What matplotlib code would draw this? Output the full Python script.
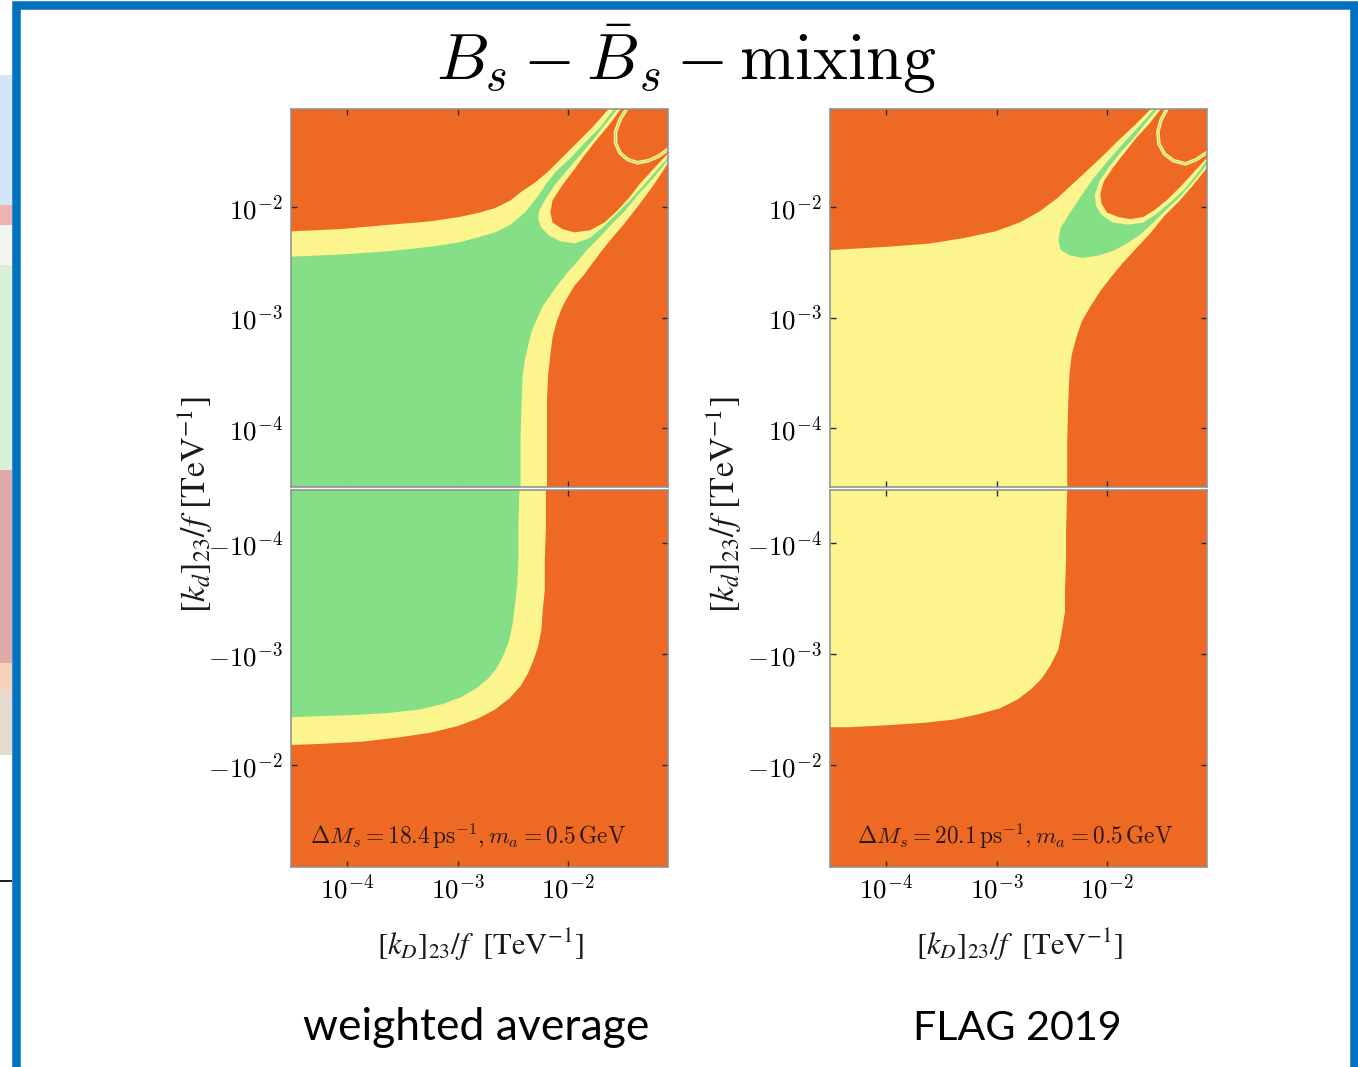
import numpy as np
import matplotlib
matplotlib.use("Agg")
import matplotlib.pyplot as plt
from matplotlib.patches import Rectangle
from matplotlib.ticker import FixedLocator, FuncFormatter, NullLocator

plt.rcParams["mathtext.fontset"] = "cm"

W, H, DPI = 1358, 1067, 100

ORANGE = "#EE6A24"
YELLOW = "#FCF48C"
GREEN = "#84DF86"

# ---------------------------------------------------------------------------
# Region boundaries, given as log10 of the couplings in TeV^-1
# (x = [k_D]_23/f, y = |[k_d]_23/f|).  "2s" = outer edge of the allowed band,
# "1s" = edge of the inner (green) region, "notch" = excluded pocket between
# the two cancellation branches, "thin" = narrow allowed branch in the corner.
# ---------------------------------------------------------------------------

# weighted average, [k_d]_23 > 0
wa_pos_2s_upper_lx = [-4.51, -4.06, -3.61, -3.25, -2.98, -2.80, -2.66, -2.52, -2.42, -2.30,
                      -2.18, -2.05, -1.91, -1.78, -1.63]
wa_pos_2s_upper_ly = [-2.22, -2.20, -2.16, -2.13, -2.09, -2.05, -2.01, -1.94, -1.86, -1.78,
                      -1.68, -1.55, -1.41, -1.28, -1.11]
wa_pos_2s_lower_lx = [-2.19, -2.19, -2.19, -2.18, -2.16, -2.14, -2.10, -2.05, -2.00, -1.94,
                      -1.86, -1.78, -1.69, -1.60, -1.49, -1.38, -1.26, -1.17, -1.10]
wa_pos_2s_lower_ly = [-4.53, -4.11, -3.75, -3.52, -3.34, -3.18, -3.03, -2.90, -2.81, -2.71,
                      -2.62, -2.51, -2.39, -2.28, -2.15, -2.01, -1.85, -1.72, -1.61]
wa_pos_1s_upper_lx = [-4.51, -4.06, -3.61, -3.25, -2.98, -2.80, -2.66, -2.52, -2.39, -2.27,
                      -2.19, -2.11, -1.97, -1.84, -1.71, -1.58]
wa_pos_1s_upper_ly = [-2.45, -2.43, -2.40, -2.36, -2.32, -2.27, -2.23, -2.16, -2.05, -1.90,
                      -1.78, -1.68, -1.55, -1.41, -1.28, -1.11]
wa_pos_1s_lower_lx = [-2.43, -2.43, -2.42, -2.41, -2.39, -2.36, -2.33, -2.28, -2.23, -2.16,
                      -2.09, -2.01, -1.92, -1.83, -1.71, -1.60, -1.48, -1.35, -1.22, -1.10]
wa_pos_1s_lower_ly = [-4.53, -4.11, -3.75, -3.52, -3.38, -3.25, -3.13, -3.01, -2.90, -2.80,
                      -2.70, -2.60, -2.50, -2.39, -2.27, -2.15, -2.03, -1.87, -1.73, -1.58]
wa_pos_notch_2s_lx = [-1.55, -1.67, -1.77, -1.89, -2.01, -2.12, -2.21, -2.26, -2.27, -2.24,
                      -2.17, -2.07, -1.94, -1.80, -1.67, -1.55, -1.44, -1.34, -1.21, -1.10]
wa_pos_notch_2s_ly = [-1.11, -1.26, -1.39, -1.53, -1.67, -1.80, -1.94, -2.03, -2.11, -2.19,
                      -2.26, -2.31, -2.33, -2.28, -2.17, -2.05, -1.94, -1.83, -1.68, -1.56]
wa_pos_notch_lx = [-1.52, -1.63, -1.74, -1.85, -1.95, -2.05, -2.14, -2.16, -2.14, -2.05,
                   -1.94, -1.80, -1.67, -1.56, -1.45, -1.35, -1.24, -1.10]
wa_pos_notch_ly = [-1.11, -1.26, -1.39, -1.53, -1.67, -1.80, -1.94, -2.05, -2.14, -2.20,
                   -2.23, -2.21, -2.14, -2.04, -1.92, -1.79, -1.67, -1.52]
wa_pos_thin_lx = [-1.45, -1.53, -1.57, -1.57, -1.53, -1.46, -1.37, -1.27, -1.18, -1.07]
wa_pos_thin_ly = [-1.08, -1.21, -1.32, -1.42, -1.51, -1.57, -1.60, -1.58, -1.54, -1.46]

# weighted average, [k_d]_23 < 0
wa_neg_1s_lx = [-2.44, -2.45, -2.45, -2.46, -2.48, -2.50, -2.53, -2.58, -2.64, -2.72,
                -2.83, -2.97, -3.13, -3.34, -3.61, -3.93, -4.24, -4.51]
wa_neg_1s_ly = [-4.48, -4.12, -3.85, -3.62, -3.44, -3.28, -3.13, -3.00, -2.88, -2.78,
                -2.69, -2.61, -2.55, -2.50, -2.47, -2.45, -2.44, -2.43]
wa_neg_2s_lx = [-2.20, -2.20, -2.21, -2.21, -2.23, -2.24, -2.27, -2.31, -2.36, -2.43,
                -2.53, -2.66, -2.81, -3.00, -3.25, -3.52, -3.86, -4.24, -4.51]
wa_neg_2s_ly = [-4.48, -4.12, -3.85, -3.58, -3.38, -3.22, -3.07, -2.95, -2.83, -2.71,
                -2.60, -2.50, -2.42, -2.35, -2.29, -2.25, -2.21, -2.19, -2.18]

# FLAG 2019, [k_d]_23 > 0
flag_pos_2s_upper_lx = [-4.51, -3.99, -3.60, -3.29, -3.01, -2.79, -2.61, -2.45, -2.32, -2.18,
                        -2.04, -1.90, -1.76, -1.59]
flag_pos_2s_upper_ly = [-2.39, -2.36, -2.33, -2.28, -2.22, -2.14, -2.04, -1.92, -1.80, -1.67,
                        -1.54, -1.40, -1.27, -1.10]
flag_pos_2s_lower_lx = [-2.36, -2.36, -2.35, -2.34, -2.32, -2.28, -2.23, -2.15, -2.06, -1.96,
                        -1.86, -1.74, -1.61, -1.48, -1.34, -1.21, -1.10]
flag_pos_2s_lower_ly = [-4.53, -4.11, -3.75, -3.52, -3.34, -3.19, -3.04, -2.90, -2.76, -2.63,
                        -2.51, -2.38, -2.24, -2.08, -1.94, -1.79, -1.65]
flag_pos_1s_lx = [-1.57, -1.71, -1.85, -1.99, -2.13, -2.24, -2.34, -2.42, -2.44, -2.42,
                  -2.33, -2.22, -2.08, -1.95, -1.82, -1.70, -1.59, -1.47, -1.34, -1.21, -1.10]
flag_pos_1s_ly = [-1.11, -1.27, -1.42, -1.58, -1.75, -1.91, -2.06, -2.19, -2.30, -2.39,
                  -2.44, -2.46, -2.44, -2.40, -2.33, -2.25, -2.15, -2.03, -1.91, -1.76, -1.62]
flag_pos_notch_2s_lx = [-1.54, -1.65, -1.76, -1.88, -1.99, -2.07, -2.11, -2.10, -2.05, -1.95,
                        -1.81, -1.67, -1.55, -1.43, -1.31, -1.20, -1.10]
flag_pos_notch_2s_ly = [-1.11, -1.24, -1.38, -1.51, -1.65, -1.77, -1.89, -1.99, -2.07, -2.14,
                        -2.16, -2.14, -2.06, -1.96, -1.85, -1.72, -1.58]
flag_pos_notch_lx = [-1.51, -1.62, -1.74, -1.85, -1.95, -2.03, -2.06, -2.05, -2.00, -1.90,
                     -1.79, -1.67, -1.56, -1.45, -1.33, -1.21, -1.10]
flag_pos_notch_ly = [-1.11, -1.25, -1.38, -1.52, -1.65, -1.77, -1.88, -1.97, -2.05, -2.09,
                     -2.11, -2.09, -2.02, -1.93, -1.81, -1.68, -1.56]
flag_pos_thin_lx = [-1.44, -1.51, -1.54, -1.53, -1.48, -1.40, -1.29, -1.19, -1.07]
flag_pos_thin_ly = [-1.08, -1.21, -1.32, -1.43, -1.52, -1.58, -1.61, -1.57, -1.49]

# FLAG 2019, [k_d]_23 < 0
flag_neg_2s_lx = [-2.36, -2.37, -2.37, -2.38, -2.38, -2.41, -2.44, -2.51, -2.59, -2.69,
                  -2.81, -2.97, -3.15, -3.38, -3.65, -3.96, -4.33, -4.51]
flag_neg_2s_ly = [-4.48, -4.12, -3.85, -3.58, -3.38, -3.20, -3.04, -2.90, -2.78, -2.68,
                  -2.59, -2.51, -2.46, -2.41, -2.38, -2.36, -2.34, -2.34]

# axis ranges (log10) and tick decades
x_range = (-4.507, -1.095)
y_pos_range = (-4.534, -1.113)
y_neg_range = (-4.477, -1.081)
tick_decades = [-4, -3, -2]

panel_captions = ["weighted average", "FLAG 2019"]
panel_notes = [r"$\Delta M_s = 18.4\,\mathrm{ps}^{-1}, m_a = 0.5\,\mathrm{GeV}$",
               r"$\Delta M_s = 20.1\,\mathrm{ps}^{-1}, m_a = 0.5\,\mathrm{GeV}$"]

FAR, CORNER = -6.0, -0.3


def fill_log(ax, lx, ly, color, z):
    ax.fill(10.0 ** np.asarray(lx), 10.0 ** np.asarray(ly), color=color,
            lw=0, zorder=z, antialiased=True)


def band_polygon(upper_lx, upper_ly, lower_lx, lower_ly):
    xs = [FAR] + upper_lx + [CORNER] + lower_lx[::-1] + [lower_lx[0], FAR]
    ys = [upper_ly[0]] + upper_ly + [CORNER] + lower_ly[::-1] + [FAR, FAR]
    return xs, ys


def corner_polygon(lx, ly):
    return lx + [CORNER], ly + [CORNER]


def lowleft_polygon(lx, ly):
    return lx + [FAR, FAR, lx[0]], ly + [ly[-1], FAR, FAR]


fig = plt.figure(figsize=(W / DPI, H / DPI), dpi=DPI)
fig.patch.set_facecolor("white")


def add_ax(left, top, right, bottom):
    return fig.add_axes([left / W, 1 - bottom / H, (right - left) / W, (bottom - top) / H])


def style_axes(ax, negative, show_x):
    ax.set_xscale("log")
    ax.set_yscale("log")
    ax.set_facecolor(ORANGE)
    ax.set_xlim(10 ** x_range[0], 10 ** x_range[1])
    if negative:
        ax.set_ylim(10 ** y_neg_range[1], 10 ** y_neg_range[0])
    else:
        ax.set_ylim(10 ** y_pos_range[0], 10 ** y_pos_range[1])
    ticks = [10.0 ** d for d in tick_decades]
    ax.xaxis.set_major_locator(FixedLocator(ticks))
    ax.yaxis.set_major_locator(FixedLocator(ticks))
    ax.xaxis.set_minor_locator(NullLocator())
    ax.yaxis.set_minor_locator(NullLocator())
    ax.xaxis.set_major_formatter(FuncFormatter(
        lambda v, p: r"$10^{%d}$" % round(np.log10(v))))
    sign = "-" if negative else ""
    ax.yaxis.set_major_formatter(FuncFormatter(
        lambda v, p: r"$%s10^{%d}$" % (sign, round(np.log10(v)))))
    ax.tick_params(which="both", direction="in", length=4.5, width=1.0,
                   color="#2a2a2a", top=True, right=True, labelsize=19.5,
                   labelbottom=show_x, pad=5)
    ax.tick_params(axis="y", pad=6)
    for s in ax.spines.values():
        s.set_color("#8e8e8e")
        s.set_linewidth(1.1)
        s.set_zorder(10)


panels = [
    dict(dx=0,
         pos_2s=(wa_pos_2s_upper_lx, wa_pos_2s_upper_ly, wa_pos_2s_lower_lx, wa_pos_2s_lower_ly),
         pos_1s=band_polygon(wa_pos_1s_upper_lx, wa_pos_1s_upper_ly, wa_pos_1s_lower_lx, wa_pos_1s_lower_ly),
         notch_2s=(wa_pos_notch_2s_lx, wa_pos_notch_2s_ly),
         notch=(wa_pos_notch_lx, wa_pos_notch_ly),
         thin=(wa_pos_thin_lx, wa_pos_thin_ly),
         neg=[((wa_neg_2s_lx, wa_neg_2s_ly), YELLOW), ((wa_neg_1s_lx, wa_neg_1s_ly), GREEN)]),
    dict(dx=539,
         pos_2s=(flag_pos_2s_upper_lx, flag_pos_2s_upper_ly, flag_pos_2s_lower_lx, flag_pos_2s_lower_ly),
         pos_1s=corner_polygon(flag_pos_1s_lx, flag_pos_1s_ly),
         notch_2s=(flag_pos_notch_2s_lx, flag_pos_notch_2s_ly),
         notch=(flag_pos_notch_lx, flag_pos_notch_ly),
         thin=(flag_pos_thin_lx, flag_pos_thin_ly),
         neg=[((flag_neg_2s_lx, flag_neg_2s_ly), YELLOW)]),
]

for i, p in enumerate(panels):
    dx = p["dx"]
    ax_top = add_ax(291 + dx, 109, 668 + dx, 487)
    ax_bot = add_ax(291 + dx, 490, 668 + dx, 867)
    style_axes(ax_top, False, False)
    style_axes(ax_bot, True, True)

    # positive [k_d]_23
    xs, ys = band_polygon(*p["pos_2s"])
    fill_log(ax_top, xs, ys, YELLOW, 1)
    fill_log(ax_top, *p["pos_1s"], GREEN, 2)
    fill_log(ax_top, *corner_polygon(*p["notch_2s"]), YELLOW, 3)
    fill_log(ax_top, *corner_polygon(*p["notch"]), ORANGE, 4)
    tx, ty = (10.0 ** np.asarray(v) for v in p["thin"])
    ax_top.plot(tx, ty, color=YELLOW, lw=2.6, solid_capstyle="butt", zorder=5)
    ax_top.plot(tx, ty, color="#B9E07E", lw=0.8, solid_capstyle="butt", zorder=6)

    # negative [k_d]_23
    for z, ((lx, ly), col) in enumerate(p["neg"]):
        fill_log(ax_bot, *lowleft_polygon(lx, ly), col, 1 + z)

    ax_bot.text(0.47 if i == 0 else 0.49, 0.082, panel_notes[i], transform=ax_bot.transAxes,
                ha="center", va="center", fontsize=16.8, color="#2a1a10", zorder=8)

    fig.text((480 + dx) / W, 1 - 945 / H, r"$[k_D]_{23}/f\ \ [\mathrm{TeV}^{-1}]$",
             ha="center", va="center", fontsize=22, math_fontfamily="stix", color="#1a1a1a")
    fig.text((195 + dx - (10 if i else 0)) / W, 1 - 505 / H, r"$[k_d]_{23}/f\ [\mathrm{TeV}^{-1}]$",
             ha="center", va="center", rotation=90, fontsize=24.5, math_fontfamily="stix",
             color="#1a1a1a")
    fig.text((476 + dx + (2 if i else 0)) / W, 1 - 1040 / H, panel_captions[i],
             ha="center", va="baseline", fontsize=32 if i == 0 else 29.7,
             family=["Lato", "DejaVu Sans"], color="black")

fig.text(686 / W, 1 - 80 / H, r"$B_s - \bar{B}_s - \mathrm{mixing}$",
         ha="center", va="baseline", fontsize=47.5, color="black")

# neighbouring slide peeking in at the left edge
strip = [(75, 205, "#D3E6F5"), (205, 225, "#EDB3B0"), (225, 265, "#F3F6F0"),
         (265, 470, "#D8F0D8"), (470, 663, "#DDA9A9"), (663, 690, "#F6D3B8"),
         (690, 755, "#E6DACF")]
for y0, y1, c in strip:
    fig.add_artist(Rectangle((0, 1 - y1 / H), 12 / W, (y1 - y0) / H,
                             transform=fig.transFigure, color=c, lw=0, zorder=0))
fig.add_artist(Rectangle((0, 1 - 882 / H), 12 / W, 2 / H, transform=fig.transFigure,
                         color="#222222", lw=0, zorder=0))

# slide frame
fig.add_artist(Rectangle((16 / W, -20 / H), 1338 / W, (1067 + 20 - 5) / H,
                         transform=fig.transFigure, fill=False, edgecolor="#0070C0",
                         lw=8.5 * 72 / DPI, zorder=20))

fig.savefig("out.png", dpi=DPI)
